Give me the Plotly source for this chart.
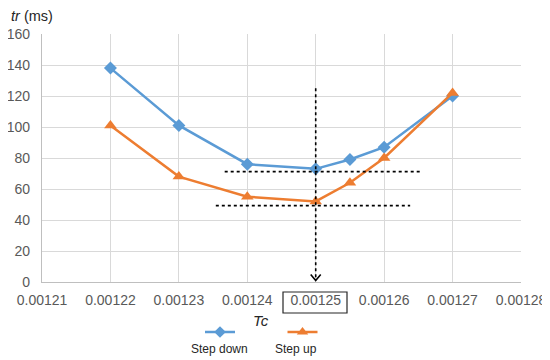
import plotly.graph_objects as go

# ---- data ----
tc = [0.00122, 0.00123, 0.00124, 0.00125, 0.001255, 0.00126, 0.00127]
step_down = [138, 101, 76, 73, 79, 87, 120]
step_up = [101, 68, 55, 52, 64, 80, 122]
x_ticks = [0.00121, 0.00122, 0.00123, 0.00124, 0.00125, 0.00126, 0.00127, 0.00128]
x_tick_labels = ["0.00121", "0.00122", "0.00123", "0.00124", "0.00125", "0.00126", "0.00127", "0.00128"]
y_ticks = [0, 20, 40, 60, 80, 100, 120, 140, 160]
series_names = ["Step down", "Step up"]

BLUE = "#5B9BD5"
ORANGE = "#ED7D31"
GRID = "#d9d9d9"
TXT = "#595959"
FONT = "Liberation Sans, Arial, sans-serif"

OFF = 8  # page body margin
W, H = 542, 352
L, R, T, B = 34, 29, 26, 5
y0_px = 282 - OFF  # figure pixel of y=0
dom_bottom = (H - B - y0_px) / (H - T - B)
PW, PH = W - L - R, H - T - B


def px_to_paper(sx, sy):
    return (sx - OFF - L) / PW, (H - B - (sy - OFF)) / PH


fig = go.Figure()
fig.add_trace(go.Scatter(x=tc, y=step_down, mode="lines+markers", name=series_names[0],
                         line=dict(color=BLUE, width=2.5),
                         marker=dict(symbol="diamond", size=10, color=BLUE)))
fig.add_trace(go.Scatter(x=tc, y=step_up, mode="lines+markers", name=series_names[1],
                         line=dict(color=ORANGE, width=2.5),
                         marker=dict(symbol="triangle-up", size=11, color=ORANGE)))

# legend symbols on helper pixel axes (screen coordinates)
leg = [(220, BLUE, "diamond", 10, series_names[0]), (302.5, ORANGE, "triangle-up", 11, series_names[1])]
for cx, col, sym, sz, nm in leg:
    fig.add_trace(go.Scatter(x=[cx - 15, cx + 15], y=[332, 332], mode="lines",
                             line=dict(color=col, width=2.5), xaxis="x2", yaxis="y2",
                             hoverinfo="skip", showlegend=False))
    fig.add_trace(go.Scatter(x=[cx], y=[332], mode="markers",
                             marker=dict(symbol=sym, size=sz - 1, color=col), xaxis="x2", yaxis="y2",
                             hoverinfo="skip", showlegend=False))

tx, ty = px_to_paper(9, 16)
annotations = [
    dict(x=261, y=320, xref="x2", yref="y2", text="<i>Tc</i>", showarrow=False,
         font=dict(size=15, color="#262626", family=FONT)),
    dict(x=tx, y=ty, xref="paper", yref="paper", text="<i>tr</i> (ms)", showarrow=False,
         xanchor="left", yanchor="middle",
         font=dict(size=14.5, color="#262626", family=FONT)),
    dict(x=219, y=349, xref="x2", yref="y2", text=series_names[0], showarrow=False,
         font=dict(size=12, color="#262626", family=FONT)),
    dict(x=296, y=349, xref="x2", yref="y2", text=series_names[1], showarrow=False,
         font=dict(size=12, color="#262626", family=FONT)),
]

ax = L + OFF + PW * 4 / 7  # screen x of the 0.00125 gridline
shapes = [
    # dotted guide lines (data coordinates)
    dict(type="line", xref="x", yref="y", x0=0.0012367, x1=0.0012652, y0=71.2, y1=71.2,
         line=dict(color="black", width=1.6, dash="dot")),
    dict(type="line", xref="x", yref="y", x0=0.0012354, x1=0.0012638, y0=49.3, y1=49.3,
         line=dict(color="black", width=1.6, dash="dot")),
    dict(type="line", xref="x", yref="y", x0=0.00125, x1=0.00125, y0=125, y1=1.5,
         line=dict(color="black", width=1.6, dash="dot")),
    # arrow head (screen coordinates)
    dict(type="path", xref="x2", yref="y2",
         path=f"M {ax - 5} 274.5 L {ax} 280.5 L {ax + 5} 274.5",
         line=dict(color="black", width=1.6)),
    # box around highlighted tick label
    dict(type="rect", xref="x2", yref="y2", x0=283, x1=347, y0=292, y1=313,
         line=dict(color="#262626", width=1.2)),
]

fig.update_layout(
    width=W, height=H,
    margin=dict(l=L, r=R, t=T, b=B, pad=0, autoexpand=False),
    paper_bgcolor="white", plot_bgcolor="rgba(0,0,0,0)",
    showlegend=False,
    font=dict(family=FONT, size=13, color=TXT),
    xaxis=dict(range=[0.00121, 0.00128], tickvals=x_ticks, ticktext=x_tick_labels,
               showgrid=True, gridcolor=GRID, gridwidth=1.2, zeroline=False,
               showline=True, linecolor="#bfbfbf", linewidth=1.2, ticks="",
               ticklabelstandoff=5,
               tickfont=dict(size=14, color=TXT), anchor="y", fixedrange=True,
               automargin=False),
    yaxis=dict(range=[0, 160], tickvals=y_ticks, domain=[dom_bottom, 1],
               showgrid=True, gridcolor=GRID, gridwidth=1.2, zeroline=False,
               showline=True, linecolor="#bfbfbf", linewidth=1.2, ticks="",
               ticklabelstandoff=8, automargin=False,
               tickfont=dict(size=14, color=TXT), anchor="x", fixedrange=True),
    xaxis2=dict(range=[L + OFF, W - R + OFF], domain=[0, 1], visible=False, fixedrange=True,
                anchor="y2", automargin=False),
    yaxis2=dict(range=[H - B + OFF, T + OFF], domain=[0, 1], visible=False, fixedrange=True,
                anchor="x2", automargin=False),
    annotations=annotations,
    shapes=shapes,
)

fig.write_html("out.html")
